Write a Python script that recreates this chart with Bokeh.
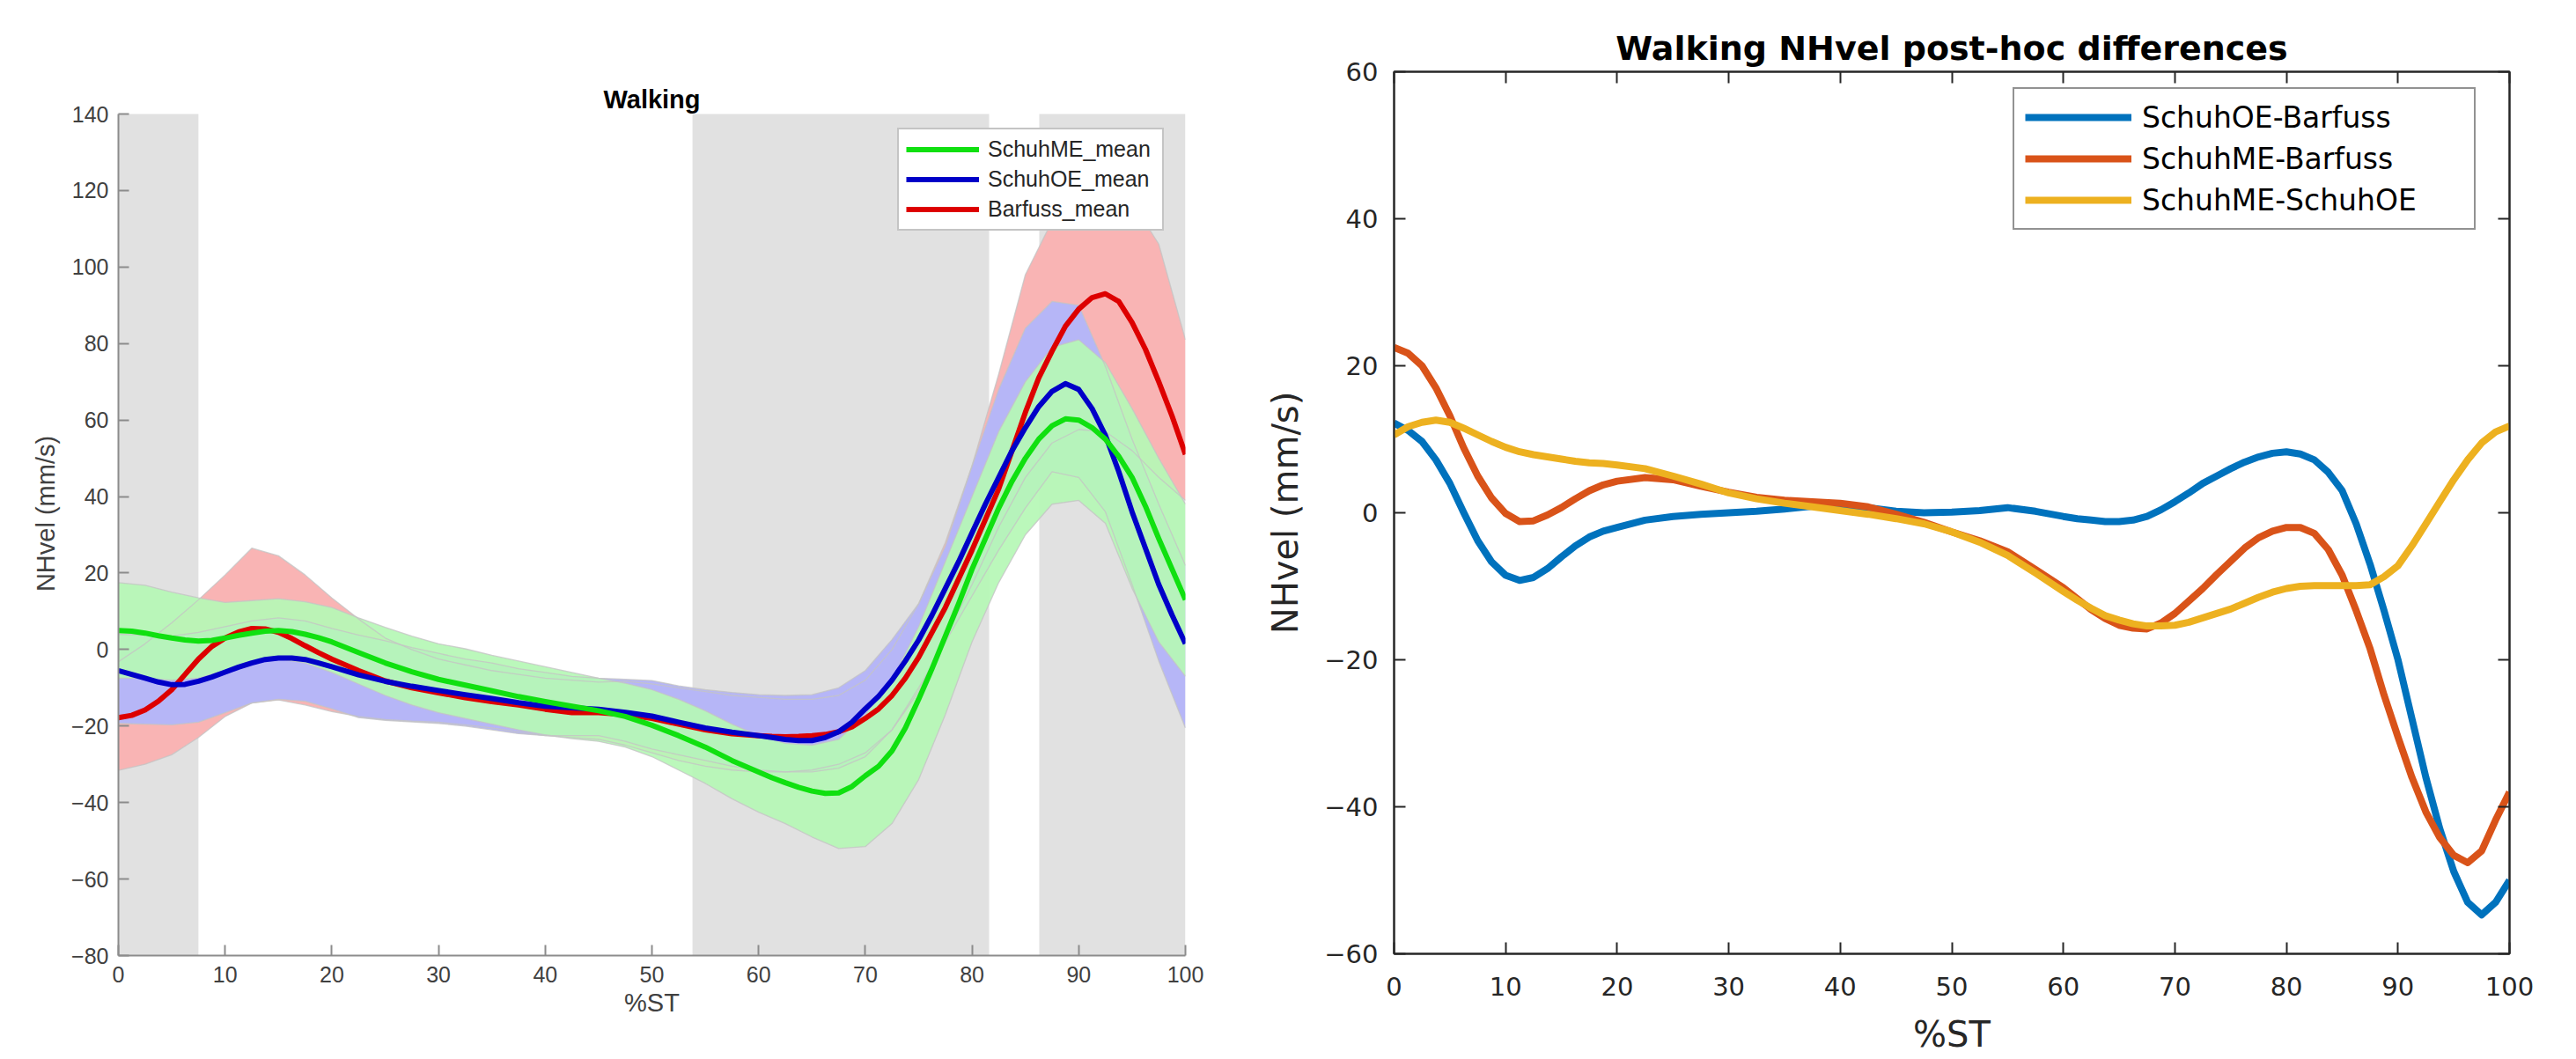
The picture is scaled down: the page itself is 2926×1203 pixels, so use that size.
from bokeh.plotting import figure
from bokeh.layouts import row
from bokeh.models import (BoxAnnotation, FixedTicker, Legend, LegendItem, Label,
                          LinearAxis, Range1d, CustomJSTickFormatter)
from bokeh.embed import file_html
from bokeh.resources import INLINE

# ---------------- data ----------------
# %ST grid of the band limits
pct_st = [0, 2.5, 5, 7.5, 10, 12.5, 15, 17.5, 20, 22.5, 25, 27.5, 30, 32.5, 35,
          37.5, 40, 42.5, 45, 47.5, 50, 52.5, 55, 57.5, 60, 62.5, 65, 67.5, 70,
          72.5, 75, 77.5, 80, 82.5, 85, 87.5, 90, 92.5, 95, 97.5, 100]
# %ST grid of the mean / difference curves (denser where they bend)
pct_line = [0, 1.25, 2.5, 3.75, 5, 6.25, 7.5, 8.75, 10, 11.25, 12.5, 13.75, 15, 16.25, 17.5, 18.75, 20,
            22.5, 25, 27.5, 30, 32.5, 35, 37.5, 40, 42.5, 45, 47.5, 50, 52.5, 55, 57.5,
            60, 61.25, 62.5, 63.75, 65, 66.25, 67.5, 68.75, 70, 71.25, 72.5, 73.75, 75, 76.25, 77.5, 78.75,
            80, 81.25, 82.5, 83.75, 85, 86.25, 87.5, 88.75, 90, 91.25, 92.5, 93.75, 95, 96.25, 97.5, 98.75, 100]

# Left panel: Walking - means (on pct_line)
schuhme_mean = [5.0, 4.8, 4.3, 3.6, 3.0, 2.5, 2.2, 2.4, 3.0, 3.7, 4.3, 4.8, 5.0, 4.7, 4.0, 3.1, 2.0,
                -0.8, -3.5, -5.8, -7.8, -9.3, -10.8, -12.3, -13.6, -14.8, -16.0, -17.5, -19.8, -22.5, -25.5, -29.0,
                -32.0, -33.5, -34.8, -36.0, -37.0, -37.6, -37.5, -35.8, -33.0, -30.5, -26.5, -20.5, -13.0, -5.0, 3.5, 12.0,
                21.0, 29.0, 37.0, 44.0, 50.0, 55.0, 58.5, 60.3, 60.0, 58.0, 55.0, 50.5, 45.0, 37.5, 29.0, 21.0, 13.0]
schuhoe_mean = [-5.5, -6.5, -7.5, -8.5, -9.2, -9.1, -8.3, -7.2, -5.9, -4.6, -3.5, -2.6, -2.2, -2.2, -2.6, -3.5, -4.5,
                -6.6, -8.3, -9.6, -10.7, -11.8, -12.8, -13.9, -14.8, -15.2, -15.6, -16.4, -17.4, -19.0, -20.5, -21.6,
                -22.5, -23.0, -23.5, -23.8, -23.8, -23.0, -21.5, -19.0, -15.5, -12.2, -8.0, -3.0, 2.5, 9.0, 16.0, 23.0,
                30.5, 38.0, 45.0, 52.0, 58.0, 63.5, 67.5, 69.5, 68.0, 63.0, 56.0, 46.5, 36.0, 26.5, 17.0, 9.0, 1.5]
barfuss_mean = [-17.8, -17.2, -15.8, -13.5, -10.5, -6.5, -2.5, 0.8, 3.0, 4.6, 5.5, 5.4, 4.5, 2.9, 1.0, -0.8, -2.5,
                -5.5, -8.2, -10.0, -11.3, -12.6, -13.6, -14.5, -15.6, -16.5, -16.5, -17.0, -18.0, -19.5, -21.0, -22.0,
                -22.5, -22.7, -22.8, -22.7, -22.5, -22.2, -21.5, -20.2, -18.0, -15.5, -12.0, -7.5, -2.0, 4.5, 11.0, 18.5,
                26.0, 34.0, 42.0, 52.0, 62.0, 71.0, 78.0, 84.5, 89.0, 92.0, 93.0, 91.0, 85.5, 78.5, 70.0, 61.0, 51.0]

# Left panel: band limits (on pct_st)
schuhme_upper = [17.5, 16.8, 15.0, 13.5, 12.3, 12.8, 13.3, 12.5, 11.0, 8.3, 5.8, 3.5, 1.5, 0.2, -1.5,
                 -3.0, -4.5, -6.0, -7.5, -8.8, -10.5, -13.0, -16.0, -19.5, -22.5, -24.5, -25.0, -23.5, -17.0,
                 -8.0, 6.0, 23.0, 40.0, 57.0, 70.0, 79.0, 81.0, 75.0, 63.0, 50.0, 38.0]
schuhme_lower = [-7.5, -7.5, -8.0, -7.5, -5.5, -3.5, -2.5, -3.5, -6.0, -9.0, -12.0, -14.5, -16.5, -18.0, -19.5,
                 -21.0, -22.3, -23.3, -24.0, -25.5, -28.0, -31.5, -35.0, -39.0, -42.5, -45.5, -49.0, -52.0, -51.5,
                 -45.5, -34.0, -17.0, 2.0, 17.5, 30.0, 38.0, 39.0, 33.0, 16.0, 2.0, -7.0]
schuhoe_upper = [4.0, 3.8, 3.5, 4.5, 6.0, 7.5, 8.3, 7.5, 5.5, 3.8, 2.3, 0.5, -1.0, -2.5, -3.5,
                 -5.0, -6.0, -7.0, -7.5, -7.8, -8.1, -9.5, -10.5, -11.2, -11.8, -12.0, -11.8, -10.0, -5.5,
                 2.6, 12.0, 27.0, 48.0, 68.0, 84.0, 91.0, 90.0, 74.0, 55.0, 38.0, 22.0]
schuhoe_lower = [-19.3, -19.5, -19.7, -19.0, -16.5, -14.0, -13.0, -13.5, -15.5, -17.8, -18.5, -18.9, -19.3, -20.0, -21.0,
                 -22.0, -22.5, -22.5, -22.5, -24.0, -26.0, -27.5, -29.0, -30.5, -31.5, -32.0, -32.0, -31.0, -28.0,
                 -21.0, -10.0, 2.0, 14.0, 26.0, 37.0, 46.5, 45.0, 36.0, 17.0, -3.0, -20.5]
barfuss_upper = [-3.2, 1.5, 7.0, 13.0, 19.5, 26.5, 24.5, 19.5, 13.5, 8.0, 3.0, 0.0, -2.5, -4.0, -5.5,
                 -6.5, -7.5, -8.0, -8.5, -8.3, -9.0, -10.0, -11.0, -12.0, -12.5, -13.0, -13.0, -12.0, -8.0,
                 0.0, 12.0, 28.0, 48.0, 72.0, 98.0, 112.0, 119.0, 121.0, 117.0, 106.0, 81.0]
barfuss_lower = [-31.6, -30.0, -27.5, -23.0, -17.5, -14.0, -13.2, -14.5, -16.2, -17.5, -18.3, -18.7, -19.0, -19.7, -20.5,
                 -21.5, -22.5, -23.0, -23.5, -25.0, -27.0, -29.0, -30.5, -31.5, -32.0, -32.0, -31.5, -30.0, -27.0,
                 -21.0, -11.0, 3.0, 17.0, 32.0, 45.0, 54.0, 57.5, 57.0, 52.0, 45.0, 39.0]

# grey shaded phases (%ST)
shade_start = [0, 53.8, 86.3]
shade_end = [7.5, 81.6, 100]

# Right panel: post-hoc differences (on pct_line)
oe_minus_bf = [12.2, 11.2, 9.7, 7.2, 4.0, 0.0, -3.8, -6.7, -8.5, -9.2, -8.8, -7.6, -6.0, -4.5, -3.3, -2.5, -2.0,
               -1.0, -0.5, -0.2, 0.0, 0.2, 0.5, 0.9, 1.0, 0.7, 0.2, 0.0, 0.1, 0.3, 0.7, 0.2,
               -0.5, -0.8, -1.0, -1.2, -1.2, -1.0, -0.5, 0.4, 1.5, 2.7, 4.0, 5.0, 6.0, 6.9, 7.6, 8.1,
               8.3, 8.0, 7.2, 5.5, 3.0, -1.5, -7.0, -13.3, -20.0, -28.0, -36.0, -43.0, -48.8, -53.0, -54.7, -53.0, -50.0]
me_minus_bf = [22.5, 21.7, 20.0, 17.0, 13.2, 8.8, 5.0, 2.0, -0.1, -1.2, -1.1, -0.3, 0.7, 1.9, 3.0, 3.8, 4.3,
               4.8, 4.5, 3.6, 2.8, 2.1, 1.7, 1.5, 1.3, 0.8, -0.2, -1.3, -2.6, -3.8, -5.3, -7.7,
               -10.2, -11.7, -13.2, -14.4, -15.3, -15.7, -15.8, -15.0, -13.7, -12.0, -10.3, -8.4, -6.6, -4.8, -3.4, -2.5,
               -2.0, -2.0, -2.8, -5.0, -8.5, -13.3, -18.5, -24.8, -30.5, -36.0, -40.7, -44.2, -46.6, -47.6, -46.0, -41.8, -38.0]
me_minus_oe = [10.6, 11.7, 12.3, 12.6, 12.3, 11.5, 10.6, 9.7, 8.9, 8.3, 7.9, 7.6, 7.3, 7.0, 6.8, 6.7, 6.5,
               6.0, 5.0, 3.9, 2.7, 1.9, 1.3, 0.8, 0.3, -0.2, -0.8, -1.5, -2.6, -4.0, -5.8, -8.2,
               -10.7, -11.9, -13.0, -14.0, -14.6, -15.1, -15.4, -15.4, -15.3, -14.9, -14.3, -13.7, -13.1, -12.3, -11.5, -10.8,
               -10.3, -10.0, -9.9, -9.9, -9.9, -9.9, -9.8, -8.7, -7.2, -4.5, -1.5, 1.5, 4.5, 7.2, 9.5, 11.0, 11.8]

x_ticks = [0, 10, 20, 30, 40, 50, 60, 70, 80, 90, 100]
left_y_ticks = [-80, -60, -40, -20, 0, 20, 40, 60, 80, 100, 120, 140]
right_y_ticks = [-60, -40, -20, 0, 20, 40, 60]
left_y_min, left_y_max = -80, 140

# ---------------- left figure ----------------
# Both plots share a row, whose frames are top-aligned; the left frame is therefore
# extended upward (48 px) and the visible axis is bounded to -80..140.
LF = "Liberation Sans"
left_px_per_unit = 956 / (left_y_max - left_y_min)
left_top_extra = 48 / left_px_per_unit
p1 = figure(frame_width=1212, frame_height=1004,
            min_border_left=134, min_border_right=84, min_border_top=81, min_border_bottom=110,
            x_range=Range1d(0, 100), y_range=Range1d(left_y_min, left_y_max + left_top_extra),
            output_backend="svg", toolbar_location=None)
p1.outline_line_color = None
p1.grid.visible = False

for s, e in zip(shade_start, shade_end):
    p1.add_layout(BoxAnnotation(left=s, right=e, top=left_y_max, fill_color="#e1e1e1", fill_alpha=1.0,
                                line_color=None, level="underlay"))

p1.varea(x=pct_st, y1=barfuss_lower, y2=barfuss_upper, fill_color="#f9b4b4")
p1.varea(x=pct_st, y1=schuhoe_lower, y2=schuhoe_upper, fill_color="#b6b6f7")
p1.varea(x=pct_st, y1=schuhme_lower, y2=schuhme_upper, fill_color="#b6f7b6", fill_alpha=0.93)

for edge in (barfuss_upper, barfuss_lower, schuhoe_upper, schuhoe_lower, schuhme_upper, schuhme_lower):
    p1.line(pct_st, edge, line_color="#c4c4c4", line_width=1.3, line_alpha=0.8)

r_bf = p1.line(pct_line, barfuss_mean, line_color="#dd0000", line_width=6, line_join="round")
r_oe = p1.line(pct_line, schuhoe_mean, line_color="#0000c8", line_width=6, line_join="round")
r_me = p1.line(pct_line, schuhme_mean, line_color="#10e010", line_width=6, line_join="round")

p1.add_layout(Label(x=50, y=left_y_max + 17 / left_px_per_unit, text="Walking",
                    text_font=LF, text_font_size="29px", text_font_style="bold",
                    text_color="black", text_align="center", text_baseline="middle"))

leg1 = Legend(items=[LegendItem(label="SchuhME_mean", renderers=[r_me]),
                     LegendItem(label="SchuhOE_mean", renderers=[r_oe]),
                     LegendItem(label="Barfuss_mean", renderers=[r_bf])],
              location=(885, 823), glyph_width=83, glyph_height=27, label_height=27,
              label_width=190, label_standoff=10, padding=8, spacing=5, margin=0,
              label_text_font=LF, label_text_font_size="25px", label_text_color="#262626",
              border_line_color="#8a8a8a", border_line_width=2, background_fill_color="white",
              background_fill_alpha=1.0)
p1.add_layout(leg1)

for ax in (p1.xaxis[0], p1.yaxis[0]):
    ax.axis_line_color = "#8c8c8c"
    ax.axis_line_width = 2
    ax.major_tick_line_color = "#8c8c8c"
    ax.major_tick_line_width = 2
    ax.major_tick_in = 12
    ax.major_tick_out = 0
    ax.minor_tick_line_color = None
    ax.major_label_text_font = LF
    ax.major_label_text_font_size = "25px"
    ax.major_label_text_color = "#404040"
    ax.axis_label_text_font = LF
    ax.axis_label_text_font_size = "29px"
    ax.axis_label_text_font_style = "normal"
    ax.axis_label_text_color = "#404040"
p1.xaxis.ticker = FixedTicker(ticks=x_ticks)
p1.yaxis.ticker = FixedTicker(ticks=left_y_ticks)
p1.yaxis.bounds = (left_y_min, left_y_max)
p1.xaxis.axis_label = "%ST"
p1.yaxis.axis_label = "NHvel (mm/s)"
p1.xaxis.major_label_standoff = 12
p1.xaxis.axis_label_standoff = 4
p1.yaxis.major_label_standoff = 11
p1.yaxis.axis_label_standoff = 10

# ---------------- right figure ----------------
RF = "DejaVu Sans"
AX = "#262626"
p2 = figure(frame_width=1267, frame_height=1002,
            min_border_left=153, min_border_right=70, min_border_top=81, min_border_bottom=118,
            x_range=Range1d(0, 100), y_range=Range1d(-60, 60),
            output_backend="svg", toolbar_location=None, title="Walking NHvel post-hoc differences")
p2.grid.visible = False
p2.outline_line_color = AX
p2.outline_line_width = 2
p2.title.align = "center"
p2.title.text_font = RF
p2.title.text_font_size = "38px"
p2.title.text_font_style = "bold"
p2.title.text_color = "black"
p2.title.standoff = 9

b1 = p2.line(pct_line, oe_minus_bf, line_color="#0072BD", line_width=8, line_join="round")
b2 = p2.line(pct_line, me_minus_bf, line_color="#D95319", line_width=8, line_join="round")
b3 = p2.line(pct_line, me_minus_oe, line_color="#EDB120", line_width=8, line_join="round")

leg2 = Legend(items=[LegendItem(label="SchuhOE-Barfuss", renderers=[b1]),
                     LegendItem(label="SchuhME-Barfuss", renderers=[b2]),
                     LegendItem(label="SchuhME-SchuhOE", renderers=[b3])],
              location=(703, 822), glyph_width=121, glyph_height=40, label_height=40,
              label_width=365, label_standoff=12, padding=12, spacing=7, margin=0,
              label_text_font=RF, label_text_font_size="33px", label_text_color="black",
              border_line_color=AX, border_line_width=2, background_fill_color="white",
              background_fill_alpha=1.0)
p2.add_layout(leg2)

bottom_ax = p2.xaxis[0]
left_ax = p2.yaxis[0]
blank = CustomJSTickFormatter(code="return '';")
top_ax = LinearAxis(ticker=FixedTicker(ticks=x_ticks), formatter=blank)
right_ax = LinearAxis(ticker=FixedTicker(ticks=right_y_ticks), formatter=blank)
p2.add_layout(top_ax, "above")
p2.add_layout(right_ax, "right")

for ax in (bottom_ax, left_ax, top_ax, right_ax):
    ax.axis_line_color = AX
    ax.axis_line_width = 2
    ax.major_tick_line_color = AX
    ax.major_tick_line_width = 2
    ax.major_tick_in = 13
    ax.major_tick_out = 0
    ax.minor_tick_line_color = None
    ax.major_label_text_font = RF
    ax.major_label_text_color = AX
    ax.axis_label_text_font = RF
    ax.axis_label_text_font_style = "normal"
    ax.axis_label_text_color = AX
    ax.major_label_text_font_size = "29px"
    ax.axis_label_text_font_size = "40px"
for ax in (top_ax, right_ax):
    ax.major_label_text_font_size = "1px"
    ax.major_label_standoff = 0
bottom_ax.ticker = FixedTicker(ticks=x_ticks)
left_ax.ticker = FixedTicker(ticks=right_y_ticks)
bottom_ax.axis_label = "%ST"
left_ax.axis_label = "NHvel (mm/s)"
bottom_ax.major_label_standoff = 26
bottom_ax.axis_label_standoff = 18
left_ax.major_label_standoff = 18
left_ax.axis_label_standoff = 18

layout = row(p1, p2)
open("out.html", "w").write(file_html(layout, INLINE))
